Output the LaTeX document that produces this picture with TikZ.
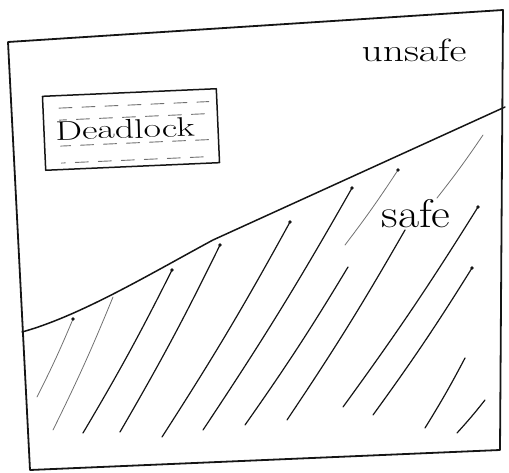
\documentclass[tikz,border=0pt]{standalone}

\definecolor{penInk}{HTML}{151515}
\definecolor{penFaint}{HTML}{707070}

\begin{document}
\begin{tikzpicture}[x=1pt,y=-1pt,line cap=round,line join=round]
  \useasboundingbox (0,0) rectangle (509,473);

  \draw[penInk,line width=1.8pt] (8,42) -- (503,10) -- (500,450) -- (30,470) -- cycle;
  \draw[penInk,line width=1.5pt] (22,332) .. controls (80,316) and (150,274) .. (213,240)
    -- (505,107);

  \node[font=\fontsize{32}{32}\selectfont,inner sep=0pt,xscale=1.3] (unsafe) at (414,50) {unsafe};
  \node[font=\fontsize{40}{40}\selectfont,inner sep=0pt,xscale=1.15] (safe) at (416,214) {safe};

  \node[draw=penInk,line width=1.5pt,rotate=2.5,minimum width=174pt,minimum height=74pt,
    inner sep=0pt] (dl) at (131,129.5) {};
  \node[font=\fontsize{27}{27}\selectfont,inner sep=0pt,rotate=1.5,xscale=1.4] (dltext)
    at (125,129) {Deadlock};

  \begin{scope}[rotate around={2.5:(131,129.5)}]
    \foreach \y/\ph in {105/0,117/6,143/3,160/9} {
      \draw[penFaint,line width=0.9pt,dash pattern=on 13pt off 10pt,dash phase=\ph pt]
        (60,\y) -- (210,\y);
    }
  \end{scope}

  \foreach \xa/\ya/\xb/\yb in {83/433/172/270,120/432/220/245,162/437/290/222,
      203/430/352/188,245/425/348/267,287/420/405/230,343/407/478/207,
      373/415/472/268,425/428/465/358,457/433/485/400} {
    \draw[penInk,line width=1.2pt] (\xa,\ya) to[bend right=2] (\xb,\yb);
  }
  \foreach \xa/\ya/\xb/\yb in {37/397/73/319,53/430/113/297,345/245/398/170,437/198/483/135} {
    \draw[penFaint,line width=0.8pt] (\xa,\ya) to[bend right=2] (\xb,\yb);
  }
  \foreach \x/\y in {73/319,172/270,220/245,290/222,352/188,398/170,478/207,472/268} {
    \fill[penInk] (\x,\y) circle (1.8pt);
  }
\end{tikzpicture}
\end{document}
